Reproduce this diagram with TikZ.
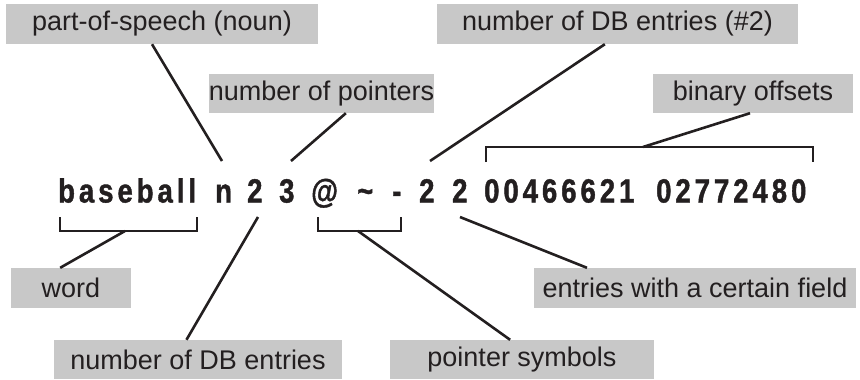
\documentclass[tikz,border=0pt]{standalone}
\usepackage{fontspec}
\setmainfont{Liberation Sans}
\newfontfamily\codefont[FakeStretch=0.82,FakeBold=1.2]{Liberation Sans}
\usetikzlibrary{calc}
\definecolor{ink}{HTML}{231F20}
\definecolor{boxgray}{HTML}{C8C8C8}
% spacing between the characters of a record field
\newcommand\ks{\kern4pt}
\tikzset{
  label box/.style={fill=boxgray, draw=none, inner sep=0pt, text=ink,
    font=\fontsize{27}{32}\selectfont, anchor=center},
  code/.style={inner sep=0pt, anchor=base west, text=ink,
    font=\codefont\bfseries\fontsize{33.5}{40}\selectfont},
  link/.style={draw=ink, line width=2.6pt},
  bracket/.style={draw=ink, line width=2.6pt, line join=miter}
}
\begin{document}
\begin{tikzpicture}[x=1pt, y=-1pt]
\useasboundingbox (0,0) rectangle (860,380);

% the record line
\node[code] (tword) at (58,202.5) {b\ks a\ks s\ks e\ks b\ks a\ks l\ks l};
\node[code] (tpos)  at (215,202.5) {n};
\node[code] (tcnt)  at (247,202.5) {2};
\node[code] (tptr)  at (279,202.5) {3};
\node[code] (tat)   at (311,202.5) {@};
\node[code] (ttil)  at (357,202.5) {\char`\~};
\node[code] (thyp)  at (392,202.5) {-};
\node[code] (tcnta) at (419,202.5) {2};
\node[code] (tcntb) at (452,202.5) {2};
\node[code] (toffa) at (484,202.5) {0\ks 0\ks 4\ks 6\ks 6\ks 6\ks 2\ks 1};
\node[code] (toffb) at (656,202.5) {0\ks 2\ks 7\ks 7\ks 2\ks 4\ks 8\ks 0};

% gray labels
\node[label box, minimum width=312pt, minimum height=40pt] (pos)   at (162,24)    {part-of-speech (noun)};
\node[label box, minimum width=199pt, minimum height=39pt] (ptrs)  at (321.5,93.5) {number of pointers};
\node[label box, minimum width=361pt, minimum height=40pt] (db2)   at (617.5,24)  {number of DB entries (\#2)};
\node[label box, minimum width=200pt, minimum height=39pt] (bin)   at (753,93.5)  {binary offsets};
\node[label box, minimum width=120pt, minimum height=40pt] (word)  at (71,288)     {word};
\node[label box, minimum width=288pt, minimum height=39pt] (dbn)   at (198,359.5) {number of DB entries};
\node[label box, minimum width=264pt, minimum height=39pt] (psym)  at (522,359.5) {pointer symbols};
\node[label box, minimum width=322pt, minimum height=40pt] (field) at (695,288)    {entries with a certain field};

% brackets
\coordinate (wbL) at (60,217);  \coordinate (wbR) at (197,217);
\coordinate (wbM) at (125,231);
\draw[bracket] (wbL) -- (60,231) -- (197,231) -- (wbR);
\coordinate (pbL) at (318,217); \coordinate (pbR) at (401,217);
\coordinate (pbM) at (358,231);
\draw[bracket] (pbL) -- (318,231) -- (401,231) -- (pbR);
\coordinate (bbL) at (486,162); \coordinate (bbR) at (813,162);
\coordinate (bbM) at (643,147);
\draw[bracket] (bbL) -- (486,147) -- (813,147) -- (bbR);

% leader tips next to the record
\coordinate (posTip)  at (222,161);
\coordinate (ptrTip)  at (291,161);
\coordinate (db2Tip)  at (430,161);
\coordinate (dbnTip)  at (258,217);
\coordinate (fldTip)  at (460,217);

% leaders
\draw[link] ($(pos.south west)!0.468!(pos.south east)$) -- (posTip);
\draw[link] ($(ptrs.south west)!0.608!(ptrs.south east)$) -- (ptrTip);
\draw[link] ($(db2.south west)!0.465!(db2.south east)$) -- (db2Tip);
\draw[link] ($(bin.south west)!0.485!(bin.south east)$) -- (bbM);
\draw[link] (wbM) -- ($(word.north west)!0.41!(word.north east)$);
\draw[link] (dbnTip) -- ($(dbn.north west)!0.46!(dbn.north east)$);
\draw[link] (pbM) -- ($(psym.north west)!0.455!(psym.north east)$);
\draw[link] (fldTip) -- ($(field.north west)!0.165!(field.north east)$);
\end{tikzpicture}
\end{document}
